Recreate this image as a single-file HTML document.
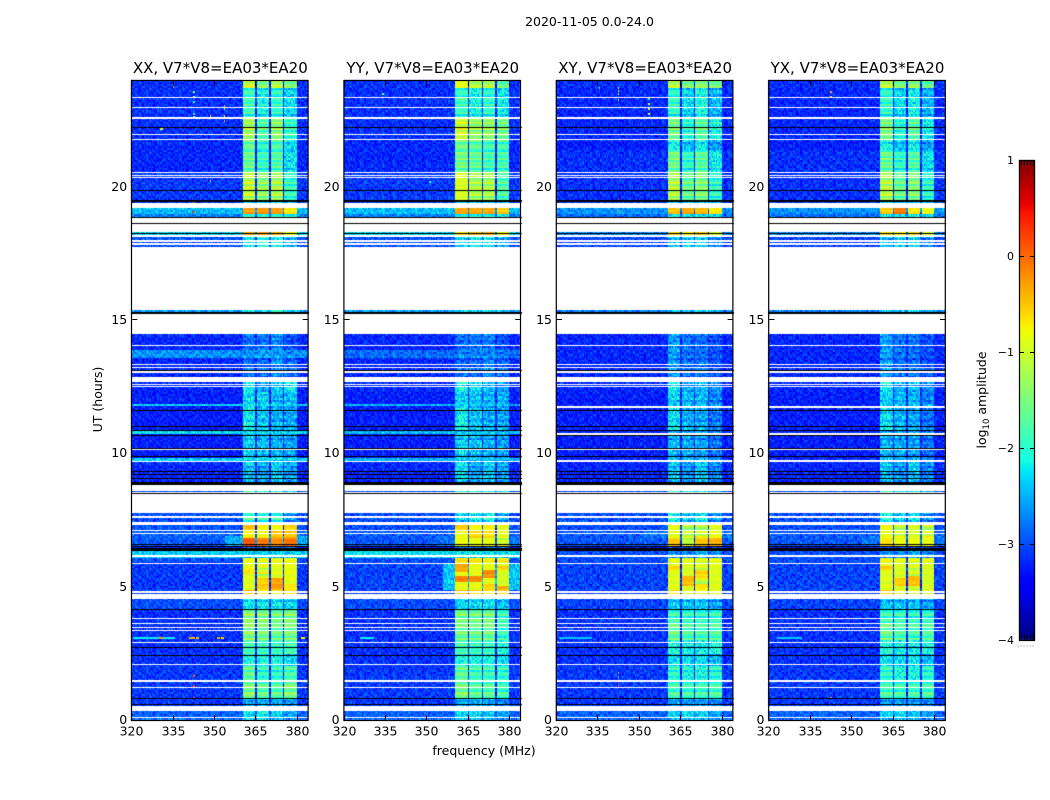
<!DOCTYPE html>
<html lang="en">
<head>
<meta charset="utf-8">
<title>2020-11-05 0.0-24.0</title>
<style>
html,body{margin:0;padding:0;background:#fff;}
#stage{position:relative;width:1050px;height:800px;overflow:hidden;background:#fff;}
#heat,#overlay{position:absolute;left:0;top:0;}
text{font-family:"DejaVu Sans","Liberation Sans",sans-serif;fill:#000;}
</style>
</head>
<body>
<div id="stage">
<canvas id="heat" width="1050" height="800"></canvas>
<svg id="overlay" width="1050" height="800" viewBox="0 0 1050 800" xmlns="http://www.w3.org/2000/svg">
<text x="589.5" y="26" text-anchor="middle" font-size="12.5">2020-11-05 0.0-24.0</text>
<text x="484" y="755" text-anchor="middle" font-size="12.5">frequency (MHz)</text>
<text transform="translate(102,399.5) rotate(-90)" text-anchor="middle" font-size="12.5">UT (hours)</text>
<text transform="translate(986,400) rotate(-90)" text-anchor="middle" font-size="12.5">log<tspan font-size="8.5" dy="3">10</tspan><tspan dy="-3"> amplitude</tspan></text>
</svg>
</div>
<script>
/* ---------- categories and tick labels ---------- */
const panelNames = ["XX, V7*V8=EA03*EA20", "YY, V7*V8=EA03*EA20", "XY, V7*V8=EA03*EA20", "YX, V7*V8=EA03*EA20"];
const freqTicks = [320, 335, 350, 365, 380];
const hourTicks = [0, 5, 10, 15, 20];
const colorTicks = [1, 0, -1, -2, -3, -4];
const spectralWindows = [[360.6, 365], [365.7, 370.1], [370.7, 375], [375.7, 380]];

/* ---------- flagged time ranges, in hours: [lowHour, highHour] ---------- */
const flaggedWhite = [
[23.33,23.36],[22.95,22.99],[22.54,22.61],[21.94,21.98],[21.75,21.79],[20.51,20.55],[20.40,20.44],[20.33,20.36],
[19.20,19.39],[18.62,18.84],[18.30,18.60],[18.11,18.17],[17.94,18.00],[17.81,17.87],[15.41,17.72],[14.48,15.23],
[14.03,14.06],[13.31,13.35],[13.20,13.24],[13.01,13.09],[12.68,12.86],[12.56,12.60],[12.49,12.53],[10.13,10.16],
[9.68,9.71],[8.59,8.78],[8.51,8.55],[7.76,8.49],[7.58,7.65],[7.31,7.43],[7.09,7.14],[6.98,7.01],[6.11,6.17],
[5.85,5.89],[4.78,4.84],[4.59,4.74],[4.54,4.58],[3.79,3.83],[3.60,3.64],[3.45,3.49],[3.34,3.38],[2.89,2.93],
[2.06,2.10],[1.44,1.50],[1.20,1.24],[0.34,0.53],[0.08,0.11]
];
const flaggedBlack = [
[22.20,22.23],[19.84,19.87],[19.44,19.51],[18.84,18.87],[18.60,18.62],[18.23,18.26],[15.24,15.30],[13.11,13.13],
[11.62,11.64],[11.02,11.04],[10.86,10.88],[10.65,10.67],[10.19,10.21],[9.89,9.91],[9.30,9.32],[9.19,9.21],[9.06,9.08],
[8.80,8.94],[8.49,8.51],[6.59,6.61],[6.51,6.53],[6.34,6.44],[4.15,4.17],[2.72,2.74],[2.41,2.43],[0.77,0.83],[0.59,0.61]
];
/* extra time ranges flagged only in the cross-hand panels */
const crossHandWhite = [[11.71,11.78],[10.70,10.76],[9.69,9.75]];
const panelExtraWhite = [[], [], crossHandWhite, crossHandWhite];

/* ---------- per-panel levels: [topHour, bottomHour, background, spw1, spw2, spw3, spw4], log10 amplitude ---------- */
const levelsXX = [
[24,23.7,-3.15,-1.05,-1.5,-1.2,-1.55],[23.7,22.58,-3.15,-1.9,-2.15,-2,-2.3],[22.58,21.75,-3.15,-1.25,-1.75,-1.4,-1.95],
[21.75,20.55,-3.2,-1.65,-1.95,-1.8,-2.25],[20.55,19.43,-3.1,-1.1,-1.4,-1.25,-1.95],[19.43,19.2,-3.1,-2.2,-2.2,-2.2,-2.4],
[19.2,19.01,-2.45,-0.3,-0.25,-0.3,-0.7],[19.01,18.86,-2.75,-1.9,-1.9,-1.9,-2],[18.3,18.17,-2.3,-0.35,-0.3,-0.4,-0.8],
[18.17,17.7,-3,-2.2,-2,-2.1,-2.5],[15.41,15.26,-2.6,-2.1,-2.2,-1.8,-2.3],[14.48,13.88,-3.2,-2.85,-2.8,-2.7,-3],
[13.88,13.54,-2.65,-2.65,-2.6,-2.6,-2.7],[13.54,12.68,-3.2,-2.9,-2.9,-2.7,-2.9],[12.68,12.3,-3.2,-2.2,-2.6,-2.4,-2.2],
[12.3,11.85,-3.25,-2.3,-2.35,-2.5,-2.45],[11.85,11.74,-2.35,-2.3,-2.3,-2.3,-2.35],[11.74,10.84,-3.25,-2.15,-2.4,-2.5,-2.55],
[10.84,10.73,-2.3,-2.3,-2.3,-2.3,-2.3],[10.73,9.86,-3.25,-2.35,-2.45,-2.5,-2.6],[9.86,9.71,-2.35,-2.3,-2.3,-2.3,-2.35],
[9.71,8.93,-3.2,-2.4,-2.55,-2.35,-2.55],[8.78,7.76,-3,-2,-2.1,-2.2,-2.5],[7.76,7.43,-3,-1.9,-2,-2,-2.7],
[7.43,7.09,-3,-0.45,-0.7,-0.75,-0.55],[7.09,6.83,-2.9,-0.75,-0.8,-0.5,-0.5],[6.83,6.56,-2.95,0.1,-0.1,-0.2,-0.05],
[6.56,6.34,-3.3,-2.6,-2.6,-2.6,-2.6],[6.34,6.11,-2.35,-2.35,-2.35,-2.35,-2.35],[6.11,5.89,-3,-0.85,-0.85,-0.85,-0.85],
[5.89,4.88,-3.1,-0.9,-1,-0.9,-0.85],[4.88,4.58,-3.1,-0.5,-0.8,-0.8,-0.6],[4.58,4.16,-3,-2.2,-2.2,-2.2,-2.3],
[4.16,3,-3.15,-1.4,-1.5,-1.6,-1.5],[3,2.44,-3.15,-1.9,-2,-2,-1.9],[2.44,2.06,-3.15,-2.1,-2.1,-2.1,-2.3],
[2.06,1.5,-3.1,-1.7,-2,-2,-1.85],[1.5,0.83,-3.1,-1.45,-1.65,-1.7,-1.5],[0.83,0.53,-3.1,-2.5,-2.5,-2.5,-2.6],[0.53,0,-2.9,-2.3,-2.2,-2.4,-2.6]
];
const levelsYY = [
[24,23.7,-3.15,-0.85,-1.2,-1.2,-1.7],[23.7,22.58,-3.15,-1.95,-2.1,-2,-2.2],[22.58,21.75,-3.15,-1,-1.35,-1.35,-1.55],
[21.75,20.55,-3.2,-1.6,-1.7,-1.85,-1.85],[20.55,19.43,-3.1,-0.95,-1.25,-1.25,-1.8],[19.43,19.2,-3.1,-2.2,-2.2,-2.2,-2.4],
[19.2,19.01,-2.45,-0.35,-0.35,-0.35,-0.55],[19.01,18.86,-2.75,-2,-2,-2,-2.1],[18.3,18.17,-2.3,-0.6,-0.4,-0.35,-0.7],
[18.17,17.7,-3,-2.3,-2.1,-2.2,-2.5],[15.41,15.26,-2.6,-2.2,-2.2,-2.1,-2.4],[14.48,13.88,-3.2,-2.85,-2.8,-2.75,-3],
[13.88,13.54,-2.85,-2.75,-2.75,-2.7,-2.8],[13.54,12.68,-3.2,-2.9,-2.9,-2.7,-2.9],[12.68,12.3,-3.2,-2.15,-2.3,-2.45,-2.65],
[12.3,11.85,-3.25,-2.35,-2.4,-2.5,-2.5],[11.85,11.74,-2.5,-2.4,-2.4,-2.4,-2.5],[11.74,10.84,-3.25,-2.15,-2.4,-2.5,-2.55],
[10.84,10.73,-2.45,-2.4,-2.4,-2.4,-2.45],[10.73,9.86,-3.25,-2.35,-2.45,-2.5,-2.6],[9.86,9.71,-2.5,-2.4,-2.4,-2.4,-2.5],
[9.71,8.93,-3.2,-2.25,-2.55,-2.35,-2.55],[8.78,7.76,-3,-2.1,-2.2,-2.2,-2.4],[7.76,7.43,-3,-2.4,-2.2,-2.1,-2.6],
[7.43,7.09,-3,-0.5,-0.75,-0.7,-0.85],[7.09,6.83,-2.95,-0.85,-0.6,-0.65,-0.85],[6.83,6.56,-2.95,-0.8,-0.85,-0.85,-1],
[6.56,6.34,-3.3,-2.6,-2.6,-2.6,-2.6],[6.34,6.11,-2.25,-2.2,-2.2,-2.2,-2.25],[6.11,5.89,-3,-0.65,-0.7,-0.75,-0.7],
[5.89,4.88,-3.05,-0.85,-0.85,-0.85,-0.95],[4.88,4.58,-3.1,-0.45,-0.6,-0.7,-0.6],[4.58,4.16,-3,-2.3,-2.3,-2.2,-2.4],
[4.16,3,-3.15,-1.55,-1.6,-1.55,-1.9],[3,2.44,-3.15,-1.9,-2,-2,-2.1],[2.44,2.06,-3.15,-2.1,-2.1,-2.1,-2.3],
[2.06,1.5,-3.1,-1.7,-1.9,-1.9,-2],[1.5,0.83,-3.1,-1.5,-1.7,-1.7,-1.85],[0.83,0.53,-3.1,-2.5,-2.5,-2.5,-2.7],[0.53,0,-2.9,-2.3,-2.3,-2.4,-2.6]
];
const levelsXY = [
[24,23.7,-3.15,-1.15,-1.55,-1.45,-1.6],[23.7,22.58,-3.2,-2,-2.3,-2.1,-2.5],[22.58,21.75,-3.2,-1.55,-2,-1.7,-2.1],
[21.75,21.4,-3.25,-2.1,-2.4,-2.2,-2.6],[21.4,20.55,-3.15,-1.6,-2,-1.75,-2.2],[20.55,19.43,-3.15,-1.2,-1.65,-1.5,-2],[19.43,19.2,-3.1,-2.3,-2.3,-2.3,-2.4],
[19.2,19.01,-2.65,-0.5,-0.35,-0.45,-0.7],[19.01,18.86,-2.85,-2.1,-2.1,-2.1,-2.2],[18.3,18.17,-2.7,-0.6,-0.7,-0.5,-0.9],
[18.17,17.7,-3.05,-2.4,-2.3,-2.3,-2.7],[15.41,15.26,-2.75,-2.3,-2.4,-2.2,-2.5],[14.48,13.88,-3.2,-2.6,-2.8,-2.85,-3],
[13.88,13.54,-3.2,-2.6,-2.85,-2.85,-3],[13.54,12.68,-3.2,-2.65,-2.85,-2.85,-3],[12.68,12.3,-3.2,-2.2,-2.6,-2.5,-2.7],
[12.3,11.85,-3.25,-2.35,-2.45,-2.5,-2.75],[11.85,11.74,-3.25,-2.5,-2.5,-2.5,-2.6],[11.74,10.84,-3.25,-2.25,-2.5,-2.55,-2.8],
[10.84,10.73,-3.2,-2.5,-2.5,-2.5,-2.7],[10.73,9.86,-3.25,-2.5,-2.55,-2.6,-2.85],[9.86,9.71,-3.2,-2.6,-2.6,-2.6,-2.8],
[9.71,8.93,-3.2,-2.4,-2.6,-2.4,-2.7],[8.78,7.76,-3,-2.1,-2.3,-2.3,-2.6],[7.76,7.43,-3,-2.1,-2.4,-2.2,-2.7],
[7.43,7.09,-3,-0.8,-1.1,-1.1,-0.85],[7.09,6.83,-2.95,-0.9,-1.1,-1,-0.85],[6.83,6.56,-2.95,-0.5,-1.1,-0.5,-0.4],
[6.56,6.34,-3.3,-2.8,-2.8,-2.8,-2.8],[6.34,6.11,-3,-2.7,-2.7,-2.5,-2.7],[6.11,5.89,-3,-0.85,-0.85,-0.85,-0.85],
[5.89,4.88,-3.05,-0.9,-0.95,-1,-0.9],[4.88,4.58,-3.1,-0.6,-0.9,-0.9,-0.85],[4.58,4.16,-3.05,-2.4,-2.4,-2.4,-2.6],
[4.16,3.6,-3.15,-1.9,-1.95,-2,-1.95],[3.6,3,-3.15,-1.6,-1.75,-1.8,-1.75],[3,2.44,-3.15,-2.1,-2.2,-2.2,-2.1],[2.44,2.06,-3.15,-2.3,-2.3,-2.3,-2.5],
[2.06,1.5,-3.1,-2,-2.1,-2.1,-2.05],[1.5,0.83,-3.1,-1.8,-1.85,-1.85,-1.8],[0.83,0.53,-3.1,-2.6,-2.6,-2.6,-2.7],[0.53,0,-2.9,-2.4,-2.3,-2.4,-2.6]
];
const levelsYX = [
[24,23.7,-3.15,-1.15,-1.55,-1.45,-1.7],[23.7,22.58,-3.2,-2,-2.3,-2.15,-2.5],[22.58,21.75,-3.2,-1.5,-2,-1.7,-2.15],
[21.75,21.4,-3.25,-2.1,-2.4,-2.2,-2.6],[21.4,20.55,-3.15,-1.65,-2,-1.8,-2.25],[20.55,19.43,-3.15,-1.2,-1.65,-1.5,-2],[19.43,19.2,-3.1,-2.3,-2.3,-2.3,-2.4],
[19.2,19.01,-2.65,-0.55,-0.1,-0.7,-0.85],[19.01,18.86,-2.85,-2.1,-2.1,-2.1,-2.2],[18.3,18.17,-2.7,-0.65,-0.7,-0.6,-0.9],
[18.17,17.7,-3.05,-2.4,-2.3,-2.3,-2.7],[15.41,15.26,-2.75,-2.3,-2.4,-2.2,-2.5],[14.48,13.88,-3.2,-2.6,-2.8,-2.85,-3],
[13.88,13.54,-3.2,-2.6,-2.85,-2.85,-3],[13.54,12.68,-3.2,-2.65,-2.85,-2.85,-3],[12.68,12.3,-3.2,-2.2,-2.6,-2.5,-2.7],
[12.3,11.85,-3.25,-2.35,-2.45,-2.5,-2.75],[11.85,11.74,-3.25,-2.5,-2.5,-2.5,-2.6],[11.74,10.84,-3.25,-2.25,-2.5,-2.55,-2.8],
[10.84,10.73,-3.2,-2.5,-2.5,-2.5,-2.7],[10.73,9.86,-3.25,-2.5,-2.55,-2.6,-2.85],[9.86,9.71,-3.2,-2.6,-2.6,-2.6,-2.8],
[9.71,8.93,-3.2,-2.4,-2.6,-2.4,-2.7],[8.78,7.76,-3,-2.1,-2.3,-2.3,-2.6],[7.76,7.43,-3,-2.1,-2.4,-2.2,-2.7],
[7.43,7.09,-3,-0.75,-1,-0.9,-1],[7.09,6.83,-2.95,-0.85,-1,-0.95,-1],[6.83,6.56,-2.95,-0.65,-0.85,-0.8,-0.85],
[6.56,6.34,-3.3,-2.8,-2.8,-2.8,-2.8],[6.34,6.11,-3,-2.7,-2.7,-2.5,-2.7],[6.11,5.89,-3,-0.8,-0.85,-0.85,-0.85],
[5.89,4.88,-3.05,-0.9,-0.95,-1,-0.95],[4.88,4.58,-3.1,-0.55,-0.9,-0.9,-0.85],[4.58,4.16,-3.05,-2.4,-2.4,-2.4,-2.6],
[4.16,3.6,-3.15,-1.9,-1.95,-2,-1.95],[3.6,3,-3.15,-1.6,-1.75,-1.8,-1.75],[3,2.44,-3.15,-2.1,-2.2,-2.2,-2.1],[2.44,2.06,-3.15,-2.3,-2.3,-2.3,-2.5],
[2.06,1.5,-3.1,-2,-2.1,-2.1,-2.05],[1.5,0.83,-3.1,-1.8,-1.85,-1.85,-1.8],[0.83,0.53,-3.1,-2.6,-2.6,-2.6,-2.7],[0.53,0,-2.9,-2.4,-2.3,-2.4,-2.6]
];

/* hot patches inside a window: [topHour, bottomHour, spwIndex, level] */
const hotspotsXX = [[5.3,4.88,1,-0.55],[5.3,4.88,2,-0.3],[5.1,4.9,3,-0.7],[5.7,5.5,0,-0.7]];
const hotspotsYY = [[5.85,5.55,0,-0.35],[5.4,5.2,0,-0.15],[5.4,5.2,1,-0.2],[5.65,5.3,2,-0.2],[5.05,4.88,3,-0.35],[5.8,5.6,3,-0.55],[5.1,4.9,2,-0.6]];
const hotspotsXY = [[5.4,5.0,1,-0.45],[5.6,5.3,2,-0.6],[5.1,4.9,2,-0.7],[5.8,5.6,0,-0.6]];
const hotspotsYX = [[5.3,5.05,1,-0.55],[5.4,5.0,2,-0.45],[5.8,5.6,0,-0.55]];

/* narrow-band interference: [hour, startFreq, endFreq, level] */
const spikesXX = [
[23.78,335,335.5,-0.3],[23.6,342.5,343,-1.2],[23.4,342.5,343,-1],[23.2,342.5,343,-1.9],[22.75,342.5,343,-1.9],[22.65,342.5,343,-1.9],
[23.05,353.5,354,-0.3],[22.95,353.5,354,-0.9],[22.7,353.5,354,-0.9],[22.62,353.5,354,-0.2],[22.5,353.5,354,-0.5],[22.7,348.5,349,-0.9],
[22.2,330.5,331.5,-0.8],[20.25,348.5,349,-0.8],[19.5,324,324.5,-0.2],[19.42,342.5,343,0.1],[19.1,342.5,343,0.2],
[3.1,320.5,336,-2.2],[3.1,330,331.5,-0.3],[3.1,341,343,-0.4],[3.1,343.5,344.5,-0.5],[3.1,351,352,-0.4],[3.1,352.5,353.5,-0.6],[3.1,381.5,383,-0.8],[1.7,342.5,343,0.1],[1.3,342.5,343,0.2],[0.85,342.5,343,0.2]
];
const spikesYY = [[23.5,334,334.5,-1.4],[20.2,351,351.5,-1.8],[19.5,342.5,343,-1.6],[3.1,326,331,-2.2]];
const spikesXY = [[23.74,342.5,343,-0.9],[23.63,342.5,343,-1],[23.51,342.5,343,-0.9],[23.29,342.5,343,-0.8],[23.33,353.5,354,-1.9],[23.14,353.5,354,-0.9],[22.95,353.5,354,-0.9],[22.76,353.5,354,-0.8],[23.75,335.5,336,-0.9],[19.58,342.5,343,0.3],[19.5,323.5,324,-0.4],[19.13,342.5,343,-0.2],[3.1,321,333,-2.4],[1.8,342.5,343,-0.4],[1.65,342.5,343,-1.6],[1.46,342.5,343,0.4],[1.31,342.5,343,0.3],[0.86,342.5,343,-0.2],[1.95,335.5,336,-2]];
const spikesYX = [[23.6,342.5,343,-0.4],[23.4,342.5,343,-0.8],[19.5,325,325.5,-0.6],[19.5,342.5,343,-0.6],[3.1,323,332,-2.4],[0.85,342.5,343,-0.3]];

/* shoulder of raised level just below the first window: [topHour, bottomHour, startFreq, level] */
const shouldersXX = [[6.9,6.56,354,-2.5]];
const shouldersYY = [[5.85,4.9,356,-2.4],[6.9,6.56,354,-2.8]];
const shouldersXY = [[7.1,6.83,352,-2.8]];
const shouldersYX = [[6.9,6.56,354,-2.8]];

/* fixed speckle tile (digits 0-9 map to small level offsets) and per-time striping inside the windows */
const speckleTile = [
"382915704628193750264818","617340982571406239851072","045829361708452916370594","793160258934170682541329",
"250874193625089347162806","918436027159362804975143","364701582946731058249617","802957316408529164730285",
"571283940617843925016398","149605728352190473682951","836492017584306215947260","427018653290764831509472",
"695320841763928405172638","013758492186547203968145","748261905437010862593714","260947138529683714085926"
];
const timeStripes = [0.1,-0.12,0.04,0.18,-0.2,0.02,0.12,-0.06,-0.22,0.15,0.05,-0.1,0.2,-0.16,0.08,-0.03,0.16,-0.24,0.06,0.11,-0.08,0.14,-0.14,0.01,0.19,-0.18,0.09];

const panelLevels = [levelsXX, levelsYY, levelsXY, levelsYX];
const panelHotspots = [hotspotsXX, hotspotsYY, hotspotsXY, hotspotsYX];
const panelSpikes = [spikesXX, spikesYY, spikesXY, spikesYX];
const panelShoulders = [shouldersXX, shouldersYY, shouldersXY, shouldersYX];

/* ---------- layout and axis functions ---------- */
const PANEL_LEFTS = [131.2, 343.6, 556, 768.4];
const PANEL_W = 176.6, PANEL_TOP = 80, PANEL_H = 640;
const FREQ_MIN = 320, FREQ_MAX = 384, CHANNEL = 0.5, ROW_HOURS = 0.0375;
const CB = {x: 1019, y: 160, w: 16, h: 480, min: -4, max: 1};

function xScale(panel, f) { return PANEL_LEFTS[panel] + (f - FREQ_MIN) / (FREQ_MAX - FREQ_MIN) * PANEL_W; }
function yScale(h) { return PANEL_TOP + (24 - h) / 24 * PANEL_H; }
function cbScale(v) { return CB.y + (CB.max - v) / (CB.max - CB.min) * CB.h; }

function lerpTable(t, tbl) {
  for (let i = 1; i < tbl.length; i++) {
    if (t <= tbl[i][0]) {
      const a = tbl[i - 1], b = tbl[i];
      return a[1] + (b[1] - a[1]) * (t - a[0]) / (b[0] - a[0]);
    }
  }
  return tbl[tbl.length - 1][1];
}
const JET_R = [[0,0],[0.35,0],[0.66,1],[0.89,1],[1,0.5]];
const JET_G = [[0,0],[0.125,0],[0.375,1],[0.64,1],[0.91,0],[1,0]];
const JET_B = [[0,0.5],[0.11,1],[0.34,1],[0.65,0],[1,0]];
function jet(v) {
  const t = Math.max(0, Math.min(1, (v - CB.min) / (CB.max - CB.min)));
  return "rgb(" + Math.round(255 * lerpTable(t, JET_R)) + "," + Math.round(255 * lerpTable(t, JET_G)) + "," + Math.round(255 * lerpTable(t, JET_B)) + ")";
}

/* ---------- heatmap cells ---------- */
const ctx = document.getElementById("heat").getContext("2d");

function levelAt(panel, hour, freq, rowBin, col) {
  const seg = panelLevels[panel].find(s => hour <= s[0] && hour > s[1]);
  if (!seg) return null;
  let spw = -1;
  spectralWindows.forEach((w, i) => { if (freq >= w[0] && freq < w[1]) spw = i; });
  const line = speckleTile[(rowBin + panel * 5) % speckleTile.length];
  const digit = Number(line[(col + panel * 7) % line.length]);
  let v = spw >= 0 ? seg[3 + spw] : seg[2];
  if (spw >= 0) {
    panelHotspots[panel].forEach(p => { if (p[2] === spw && hour <= p[0] && hour > p[1]) v = p[3]; });
    const stripe = timeStripes[rowBin % timeStripes.length];
    if (v > -1) return v + stripe * 0.35 + (digit - 4.5) * 0.015;
    if (v > -2.1) return v + stripe * 1.5 + (digit - 4.5) * 0.03;
    return v + stripe * 0.8 + (digit - 4.5) * 0.08;
  }
  panelShoulders[panel].forEach(p => { if (hour <= p[0] && hour > p[1] && freq >= p[2]) v = p[3]; });
  if (freq >= 360.6 && freq < 380 && seg[3] > -2.1) v -= 0.15;
  return v + (digit - 4.5) * 0.07;
}

function drawPanel(panel) {
  const rows = Math.round(24 / ROW_HOURS / 2);
  const cols = Math.round((FREQ_MAX - FREQ_MIN) / CHANNEL);
  for (let r = 0; r < rows; r++) {
    const hTop = 24 - r * 2 * ROW_HOURS;
    const yA = Math.round(yScale(hTop));
    const yB = Math.round(yScale(hTop - 2 * ROW_HOURS));
    for (let c = 0; c < cols; c++) {
      const f = FREQ_MIN + c * CHANNEL;
      const v = levelAt(panel, hTop - ROW_HOURS, f + CHANNEL / 2, r, c);
      if (v === null) continue;
      const xA = Math.round(xScale(panel, f));
      const xB = Math.round(xScale(panel, f + CHANNEL));
      ctx.fillStyle = jet(v);
      ctx.fillRect(xA, yA, Math.max(1, xB - xA), Math.max(1, yB - yA));
    }
  }
  panelSpikes[panel].forEach(s => {
    const xA = Math.round(xScale(panel, s[1]));
    const xB = Math.round(xScale(panel, s[2]));
    ctx.fillStyle = jet(s[3]);
    ctx.fillRect(xA, Math.round(yScale(s[0])), Math.max(1, xB - xA), 2);
  });
  const L = Math.round(PANEL_LEFTS[panel]);
  const W = Math.round(PANEL_W) + 1;
  flaggedWhite.concat(panelExtraWhite[panel]).forEach(g => {
    const yTop = Math.round(yScale(g[1]));
    const yBottom = Math.round(yScale(g[0]));
    ctx.fillStyle = "#fff";
    ctx.fillRect(L, yTop, W, Math.max(1, yBottom - yTop));
  });
  flaggedBlack.forEach(g => {
    const yTop = Math.round(yScale(g[1]));
    const yBottom = Math.round(yScale(g[0]));
    ctx.fillStyle = "#000";
    ctx.fillRect(L, yTop, W, Math.max(1, yBottom - yTop));
  });
}
panelNames.forEach((_, p) => drawPanel(p));

/* ---------- colorbar fill ---------- */
for (let py = 0; py < CB.h; py++) {
  ctx.fillStyle = jet(CB.max - (py + 0.5) / CB.h * (CB.max - CB.min));
  ctx.fillRect(CB.x, CB.y + py, CB.w, 1);
}

/* ---------- axes overlay ---------- */
const svg = document.getElementById("overlay");
const NS = "http://www.w3.org/2000/svg";
function make(tag, attrs, parent) {
  const el = document.createElementNS(NS, tag);
  Object.keys(attrs).forEach(k => el.setAttribute(k, attrs[k]));
  parent.appendChild(el);
  return el;
}
function tickLine(parent, x1, y1, x2, y2) {
  const el = make("line", {x1: x1, y1: y1, x2: x2, y2: y2, stroke: "#000", "stroke-width": 1}, parent);
  
  
  return el;
}
/* hour ticks sit behind the image in the reference, so they only show through flagged white gaps */
function tickShowsThrough(h) {
  return flaggedWhite.some(g => h >= g[0] && h <= g[1]);
}

panelNames.forEach((name, p) => {
  const g = make("g", {}, svg);
  
  

  const L = PANEL_LEFTS[p];
  const frame = make("rect", {x: L + 0.3, y: PANEL_TOP + 0.5, width: PANEL_W, height: PANEL_H, fill: "none", stroke: "#000", "stroke-width": 1.2}, g);
  
  

  const title = make("text", {x: L + PANEL_W / 2 + 0.8, y: 73, "text-anchor": "middle", "font-size": 15}, g);
  title.textContent = name;
  
  

  freqTicks.forEach(f => {
    const x = Math.round(xScale(p, f)) + 0.5;
    tickLine(g, x, PANEL_TOP + 1, x, PANEL_TOP + 6);
    tickLine(g, x, PANEL_TOP + PANEL_H, x, PANEL_TOP + PANEL_H - 5);
    const label = make("text", {x: x, y: 735.5, "text-anchor": "middle", "font-size": 12.5}, g);
    label.textContent = String(f);
    
    
  });
  hourTicks.forEach(h => {
    const y = Math.round(yScale(h)) - 0.5;
    if (tickShowsThrough(h)) {
      tickLine(g, L + 1, y, L + 6, y);
      tickLine(g, L + PANEL_W, y, L + PANEL_W - 5, y);
    }
    const label = make("text", {x: L - 4, y: y + 4.5, "text-anchor": "end", "font-size": 12.5}, g);
    label.textContent = String(h);
    
    
  });
});

const cbGroup = make("g", {}, svg);


const cbFrame = make("rect", {x: CB.x + 0.5, y: CB.y + 0.5, width: CB.w - 1, height: CB.h, fill: "none", stroke: "#000", "stroke-width": 1.2}, cbGroup);


colorTicks.forEach(v => {
  const y = Math.round(cbScale(v)) + 0.5;
  tickLine(cbGroup, CB.x, y, CB.x + 5, y);
  tickLine(cbGroup, CB.x + CB.w, y, CB.x + CB.w - 5, y);
  const label = make("text", {x: CB.x - 5, y: y + 3.5, "text-anchor": "end", "font-size": 11}, cbGroup);
  label.textContent = v < 0 ? "\u2212" + Math.abs(v) : String(v);
  
  
});
for (let i = 0; i < 5; i++) {
  const x = CB.x + 2.5 + i * 3;
  tickLine(cbGroup, x, CB.y + 1, x, CB.y + 5);
  tickLine(cbGroup, x, CB.y + CB.h, x, CB.y + CB.h - 5);
}
for (let i = 0; i < 6; i++) {
  const dot = make("rect", {x: CB.x - 1.5 + i * 3, y: 645.5, width: 1, height: 1, fill: "#777"}, cbGroup);
  
  
}
</script>
</body>
</html>
